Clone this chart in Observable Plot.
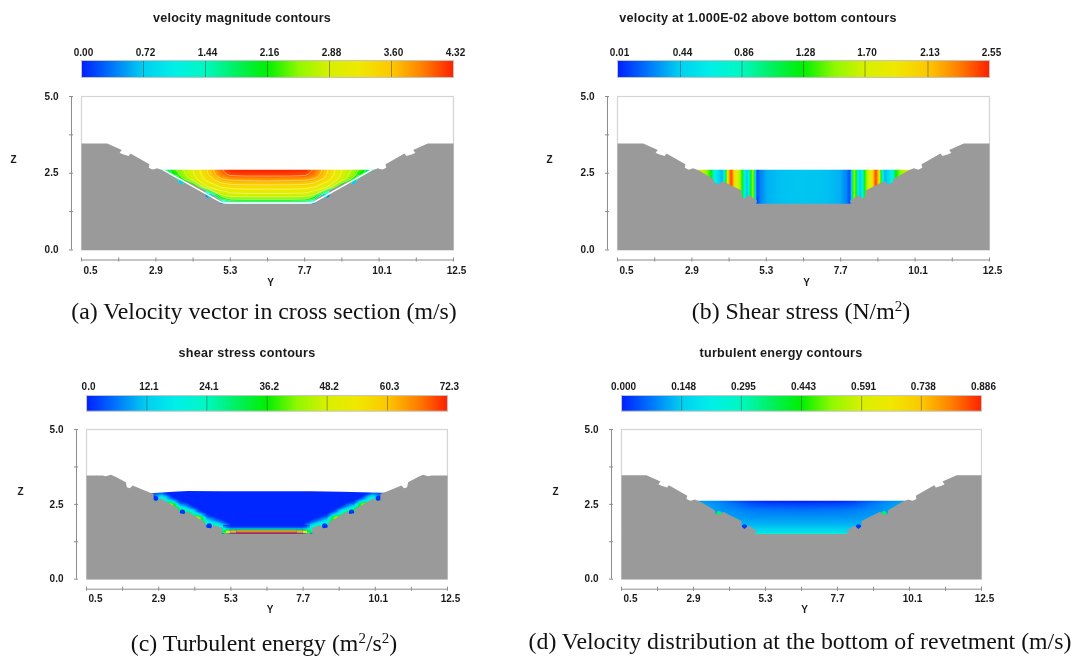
<!DOCTYPE html>
<html><head><meta charset="utf-8">
<script src="https://cdn.jsdelivr.net/npm/d3@7"></script>
<script src="https://cdn.jsdelivr.net/npm/@observablehq/plot@0.6"></script>
<style>
html,body{margin:0;padding:0;background:#fff}
#page{position:relative;width:1081px;height:657px;overflow:hidden;background:#fff;filter:blur(0.4px)}
#page svg{position:absolute;background:transparent;overflow:visible}
.ttl{position:absolute;transform:translate(-50%,-50%);font:bold 12.6px "Liberation Sans",sans-serif;color:#1a1a1a;white-space:nowrap;letter-spacing:.25px}
.cap{position:absolute;transform:translate(-50%,-50%);font:23.8px "Liberation Serif",serif;color:#111;white-space:nowrap}
.cap sup{font-size:15px;line-height:0;vertical-align:8px}
</style></head><body><div id="page"></div>
<script>
// ---------- axis values ----------
const xAxisTicks = [0.5,1.7,2.9,4.1,5.3,6.5,7.7,8.9,10.1,11.3,12.5];
const zAxisTicks = [0,1.25,2.5,3.75,5];
const zAxisLabels = [0,2.5,5];
const xLabelsStart = [0.5];
const xLabelsMid = [2.9,5.3,7.7];
const xLabelsEnd = [10.1,12.5];

// ---------- colour bar ----------
const rainbowStops = ["#0020ff","#0078fa","#00d0f0","#00f0e8","#00f8c0","#00f060","#00f000","#90f800","#d8f000","#f0e800","#fcc800","#ff8000","#ff2000"];
const ticksA = ["0.00","0.72","1.44","2.16","2.88","3.60","4.32"];
const ticksB = ["0.01","0.44","0.86","1.28","1.70","2.13","2.55"];
const ticksC = ["0.0","12.1","24.1","36.2","48.2","60.3","72.3"];
const ticksD = ["0.000","0.148","0.295","0.443","0.591","0.738","0.886"];

// ---------- channel profiles (y, z) ----------
const bedY = [0.5,1.33,1.80,1.73,1.83,2.02,2.08,2.69,2.67,2.80,2.94,3.16,3.61,3.63,3.77,3.88,4.50,4.50,4.60,4.74,5.01,4.95,8.05,7.99,8.26,8.40,8.50,8.50,9.12,9.23,9.37,9.39,9.84,10.06,10.20,10.33,10.31,10.92,10.98,11.17,11.27,11.20,11.67,12.5,12.5,0.5];
const bedZ = [3.47,3.47,3.26,3.17,3.12,3.06,3.14,2.79,2.68,2.61,2.66,2.57,2.30,2.19,2.14,2.25,1.94,1.76,1.68,1.79,1.60,1.51,1.51,1.60,1.79,1.68,1.76,1.94,2.25,2.14,2.19,2.30,2.57,2.66,2.61,2.68,2.79,3.14,3.06,3.12,3.17,3.26,3.47,3.47,0,0];
const bedCY = [0.5,1.03,1.14,1.31,1.48,1.81,1.84,1.95,2.03,2.64,2.73,2.73,2.86,2.95,3.55,3.60,3.75,3.84,4.42,4.50,4.64,4.72,5.0,5.0,8.0,8.0,8.28,8.36,8.50,8.58,9.16,9.25,9.40,9.45,10.05,10.14,10.27,10.27,10.36,10.97,11.05,11.16,11.19,11.52,11.69,11.86,11.97,12.5,12.5,0.5];
const bedCZ = [3.46,3.46,3.44,3.49,3.41,3.24,3.07,3.04,3.13,2.88,2.85,2.63,2.61,2.70,2.36,2.20,2.18,2.26,1.92,1.72,1.70,1.80,1.72,1.52,1.52,1.72,1.80,1.70,1.72,1.92,2.26,2.18,2.20,2.36,2.70,2.61,2.63,2.85,2.88,3.13,3.04,3.07,3.24,3.41,3.49,3.44,3.46,3.46,0,0];

// ---------- water surfaces ----------
const surfaceY = [0.5,12.5];
const surfaceZ = [2.6,2.6];
const surfaceCY = [0.5,2.64,3.4,3.9,5.0,6.5,8.0,9.0,10.36,12.5];
const surfaceCZ = [2.85,2.85,2.9,2.93,2.92,2.92,2.92,2.9,2.87,2.87];

// ---------- (a) velocity magnitude ----------
const wallAY = [3.15,5.0,5.12,7.88,8.0,9.85];
const wallAZ = [2.6,1.56,1.53,1.53,1.56,2.6];
const gridAY = [2.8,3.15,3.4,3.7,4.1,4.55,5.0,5.3,5.8,6.5,7.2,7.7,8.0,8.45,8.9,9.3,9.6,9.85,10.2];
const gridAZ = [3.0,2.6,2.45,2.3,2.04,1.8,1.65,1.57,1.4];
const gridAV = [
 [0.2,1.4,2.2,2.6,3.0,3.5,4.05,4.3,4.3,4.32,4.3,4.3,4.05,3.5,3.0,2.6,2.2,1.4,0.2],
 [0.2,1.4,2.2,2.6,3.0,3.5,4.05,4.3,4.3,4.32,4.3,4.3,4.05,3.5,3.0,2.6,2.2,1.4,0.2],
 [0,0.5,1.9,2.5,2.95,3.45,3.95,4.15,4.2,4.2,4.2,4.15,3.95,3.45,2.95,2.5,1.9,0.5,0],
 [0,0,0.6,2.2,2.85,3.35,3.7,3.8,3.82,3.85,3.82,3.8,3.7,3.35,2.85,2.2,0.6,0,0],
 [0,0,0,0.3,1.8,2.95,3.25,3.32,3.35,3.35,3.35,3.32,3.25,2.95,1.8,0.3,0,0,0],
 [0,0,0,0,0,0.6,2.7,2.9,2.92,2.92,2.92,2.9,2.7,0.6,0,0,0,0,0],
 [0,0,0,0,0,0,1.9,2.4,2.45,2.45,2.45,2.4,1.9,0,0,0,0,0,0],
 [0,0,0,0,0,0,0.9,1.7,1.8,1.8,1.8,1.7,0.9,0,0,0,0,0,0],
 [0,0,0,0,0,0,0,0,0,0,0,0,0,0,0,0,0,0,0]];
const contourA = [1.2,1.6,2.0,2.4,2.7,3.0,3.25,3.5,3.75,4.1];
const cavAY = [2.85,3.7,4.65,8.35,9.3,10.15];
const cavAZ = [2.63,2.2,1.74,1.74,2.2,2.63];
const cavAV = [0.2,0.75,0.75,0.75,0.75,0.2];

// ---------- (b) near-bed velocity, stripes across y ----------
const gridBY = [0.5,3.18,3.34,3.5,3.61,3.72,3.88,3.96,4.04,4.11,4.18,4.23,4.31,4.44,4.52,4.6,4.68,4.76,4.81,4.88,4.94,5.0,5.11,5.33,5.76,6.5,7.24,7.67,7.89,8.0,8.06,8.12,8.19,8.24,8.32,8.4,8.48,8.56,8.69,8.77,8.82,8.89,8.96,9.04,9.12,9.28,9.39,9.5,9.66,9.82,12.5];
const gridBZ = [1.3,2.8];
const stripesB = [1.7,1.7,1.55,1.3,0.8,0.55,0.35,0.8,1.7,2.3,2.5,2.2,1.85,1.6,1.3,0.7,0.4,0.85,1.3,1.65,0.6,0.1,0.25,0.36,0.4,0.41,0.4,0.36,0.25,0.1,0.6,1.65,1.3,0.85,0.4,0.7,1.3,1.6,1.85,2.2,2.5,2.3,1.7,0.8,0.35,0.55,0.8,1.3,1.55,1.7,1.7];

// ---------- (c) shear stress: scattered samples following the wall ----------
const wallCY = [2.7,3.0,3.3,3.6,3.9,4.2,4.5,4.8,4.98,8.02,8.2,8.5,8.8,9.1,9.4,9.7,10.0,10.3];
const wallCZb = [2.76,2.6,2.42,2.26,2.16,1.98,1.82,1.7,1.64,1.64,1.7,1.82,1.98,2.16,2.26,2.42,2.6,2.76];
const wallCZ0 = [2.84,2.68,2.50,2.34,2.24,2.06,1.90,1.78,1.72,1.72,1.78,1.90,2.06,2.24,2.34,2.50,2.68,2.84];
const wallCZ1 = [2.88,2.72,2.54,2.38,2.28,2.10,1.94,1.82,1.76,1.76,1.82,1.94,2.10,2.28,2.38,2.54,2.72,2.88];
const wallCZ2 = [2.94,2.78,2.60,2.44,2.34,2.16,2.00,1.88,1.82,1.82,1.88,2.00,2.16,2.34,2.44,2.60,2.78,2.94];
const wallCZ3 = [3.02,2.86,2.68,2.52,2.42,2.24,2.08,1.96,1.90,1.90,1.96,2.08,2.24,2.42,2.52,2.68,2.86,3.02];
const wallCZ4 = [3.14,2.98,2.80,2.64,2.54,2.36,2.20,2.08,2.02,2.02,2.08,2.20,2.36,2.54,2.64,2.80,2.98,3.14];
const wallCV0 = [3,25,50,30,30,52,22,28,22,22,28,22,52,30,30,50,25,3];
const wallCV1 = [3,20,38,24,24,38,16,20,18,18,20,16,38,24,24,38,20,3];
const wallCV2 = [1.5,14,18,14,14,18,12,14,14,14,14,12,18,14,14,18,14,1.5];
const wallCV3 = [0.5,6,7,6,6,7,5,6,6,6,6,5,7,6,6,7,6,0.5];
const wallCV4 = [0.5,0.5,0.5,0.5,0.5,0.5,0.5,0.5,0.5,0.5,0.5,0.5,0.5,0.5,0.5,0.5,0.5,0.5];
const openCY = [0.5,6.5,12.5,5.3,5.9,6.5,7.1,7.7,5.3,5.9,6.5,7.1,7.7,5.5,6.5,7.5,5.3,6.5,7.7];
const openCZ = [3.6,3.2,3.6,1.85,1.85,1.85,1.85,1.85,2.1,2.1,2.1,2.1,2.1,2.5,2.5,2.5,1.4,1.4,1.4];
const openCV = [0.5,0.5,0.5,0.5,0.5,0.5,0.5,0.5,0.5,0.5,0.5,0.5,0.5,0.5,0.5,0.5,0.5,0.5,0.5];
const cavCY = [2.8,3.69,4.58,8.42,9.31,10.2];
const cavCZ = [2.7,2.24,1.78,1.78,2.24,2.7];
const cavCV = [1,1,1,1,1,1];
// thin layer on the channel floor of (c): column edges, row edges, value per cell
const floorCYEdges = [5.0,5.06,5.15,5.3,5.5,7.5,7.7,7.85,7.94,8.0];
const floorCZEdges = [1.52,1.56,1.6,1.62,1.64,1.66,1.68,1.71,1.75,1.8];
const floorCV = [
 [32,40,56,66,71,66,56,40,32],
 [30,36,52,62,66,62,52,36,30],
 [28,32,46,52,56,52,46,32,28],
 [28,28,36,38,40,38,36,28,28],
 [28,24,28,29,30,29,28,24,28],
 [28,18,20,20,20,20,20,18,28],
 [26,14,11,10,10,10,11,14,26],
 [20,8,4,3,3,3,4,8,20],
 [14,3,1,0.5,0.5,0.5,1,3,14]];

// ---------- (d) turbulent energy ----------
const gridDY = [2.9,3.3,3.8,4.3,4.8,5.3,6.5,7.7,8.2,8.7,9.2,9.7,10.1];
const gridDZ = [2.9,2.6,2.5,2.3,2.0,1.75,1.55,1.5,1.4];
const gridDV = [
 [0.11,0.1,0.08,0.05,0.02,0.005,0,0.005,0.02,0.05,0.08,0.1,0.11],
 [0.11,0.1,0.08,0.05,0.02,0.005,0,0.005,0.02,0.05,0.08,0.1,0.11],
 [0.12,0.11,0.09,0.07,0.045,0.035,0.03,0.035,0.045,0.07,0.09,0.11,0.12],
 [0.14,0.12,0.1,0.09,0.08,0.075,0.07,0.075,0.08,0.09,0.1,0.12,0.14],
 [0.16,0.14,0.12,0.11,0.105,0.105,0.105,0.105,0.105,0.11,0.12,0.14,0.16],
 [0.19,0.17,0.15,0.14,0.135,0.135,0.135,0.135,0.135,0.14,0.15,0.17,0.19],
 [0.22,0.21,0.2,0.2,0.19,0.19,0.19,0.19,0.19,0.2,0.2,0.21,0.22],
 [0.33,0.33,0.33,0.33,0.33,0.33,0.33,0.33,0.33,0.33,0.33,0.33,0.33],
 [0.33,0.33,0.33,0.33,0.33,0.33,0.33,0.33,0.33,0.33,0.33,0.33,0.33]];
const cavDY = [3.75,4.6,8.4,9.25];
const cavDZ = [2.19,1.75,1.75,2.19];
const cavDV = [0.36,0.02,0.02,0.36];

// ---------- helpers turning the arrays into mark data ----------
const toPts = (xs, zs) => xs.map((x,i)=>({x, z:zs[i]}));
const toSamples = (xs, zs, vs) => xs.map((x,i)=>({x, z:zs[i], v:vs[i]}));
const fromGrid = (xs, zs, rows) => zs.flatMap((z,r)=>xs.map((x,c)=>({x, z, v:rows[r][c]})));
const floorCells = floorCV.flatMap((row,r)=>row.map((v,c)=>({x1:floorCYEdges[c],x2:floorCYEdges[c+1],z1:floorCZEdges[r],z2:floorCZEdges[r+1],v})));

const samplesA = fromGrid(gridAY, gridAZ, gridAV);
const samplesB = fromGrid(gridBY, gridBZ, gridBZ.map(()=>stripesB));
const samplesC = [
  ...toSamples(wallCY, wallCZb, wallCV0), ...toSamples(wallCY, wallCZ0, wallCV0),
  ...toSamples(wallCY, wallCZ1, wallCV1), ...toSamples(wallCY, wallCZ2, wallCV2),
  ...toSamples(wallCY, wallCZ3, wallCV3), ...toSamples(wallCY, wallCZ4, wallCV4),
  ...toSamples(openCY, openCZ, openCV)];
const samplesD = fromGrid(gridDY, gridDZ, gridDV);

const GROUND = "#9a9a9a", AXIS = "#8c8c8c", INK = "#1a1a1a", FONT = "Liberation Sans";
const page = document.getElementById("page");

function panel(o){
  const {L,R,T,B,barT,barB,ticks,samples,bed,surface,extra=[],after=[],cav,titleText,titleX,titleY,capHTML,capX,capY,xLabelY=270,yLabelDy=33,zDx=-68} = o;
  const vmin = +ticks[0], vmax = +ticks[ticks.length-1];
  const color = {domain:[vmin,vmax], clamp:true, interpolate:d3.piecewise(d3.interpolateRgb, rainbowStops)};
  const style = {fontFamily:FONT, fontWeight:"bold", fontSize:"10px", color:INK, background:"transparent", overflow:"visible"};
  const mL = 80, mR = 40, mB = 48, mT = 10;
  const w = R-L+mL+mR, h = B-T+mT+mB;
  const xLabelDy = xLabelY-B;

  const field = Plot.plot({
    width:w, height:h, marginLeft:mL, marginRight:mR, marginTop:mT, marginBottom:mB,
    style, color,
    x:{domain:[0.5,12.5], axis:null}, y:{domain:[0,5], axis:null},
    marks:[
      Plot.raster(samples,{x:"x",y:"z",fill:"v",interpolate:"barycentric",pixelSize:1}),
      ...extra,
      cav ? Plot.dot(cav,{x:"x",y:"z",fill:"v",r:2.6}) : null,
      Plot.areaY(surface,{x:"x",y1:"z",y2:()=>5,fill:"#ffffff"}),
      Plot.frame({stroke:"#d4d4d4",strokeWidth:1.2}),
      Plot.line(bed,{x:"x",y:"z",fill:GROUND,stroke:"none"}),
      ...after,
      Plot.ruleY([0],{dy:10,stroke:AXIS,strokeWidth:1}),
      Plot.axisX(xAxisTicks,{anchor:"bottom",text:null,tickSize:4,dy:8,stroke:AXIS,label:null}),
      Plot.ruleX([0.5],{dx:-10,stroke:AXIS,strokeWidth:1}),
      Plot.axisY(zAxisTicks,{anchor:"left",text:null,tickSize:4,dx:-8,stroke:AXIS,label:null}),
      Plot.text(zAxisLabels,{y:d=>d,text:d=>d.toFixed(1),frameAnchor:"left",textAnchor:"end",dx:-23,fill:INK}),
      Plot.text(xLabelsStart,{x:d=>d,text:d=>d.toFixed(1),frameAnchor:"bottom",lineAnchor:"middle",dx:9,dy:xLabelDy,fill:INK}),
      Plot.text(xLabelsMid,{x:d=>d,text:d=>d.toFixed(1),frameAnchor:"bottom",lineAnchor:"middle",dy:xLabelDy,fill:INK}),
      Plot.text(xLabelsEnd,{x:d=>d,text:d=>d.toFixed(1),frameAnchor:"bottom",lineAnchor:"middle",dx:3,dy:xLabelDy,fill:INK}),
      Plot.text(["Y"],{frameAnchor:"bottom",lineAnchor:"middle",dx:3,dy:yLabelDy,fill:INK}),
      Plot.text(["Z"],{frameAnchor:"left",textAnchor:"middle",dx:zDx,dy:-13,fill:INK})
    ].filter(Boolean)
  });
  field.style.left = (L-mL)+"px"; field.style.top = (T-mT)+"px";
  page.appendChild(field);

  const bw = R-L, bh = barB-barT;
  const bar = Plot.plot({
    width:bw+60, height:bh+30, marginLeft:30, marginRight:30, marginTop:25, marginBottom:5,
    style, color,
    x:{domain:[vmin,vmax], axis:null}, y:{domain:[0,1], axis:null},
    marks:[
      Plot.raster({fill:(x,y)=>x, x1:vmin, x2:vmax, y1:0, y2:1, pixelSize:1}),
      Plot.ruleX(ticks.slice(1,-1),{x:d=>+d,stroke:"#333",strokeOpacity:0.45}),
      Plot.frame({stroke:"#c4c4c4"}),
      Plot.text(ticks,{x:d=>+d,text:d=>d,frameAnchor:"top",lineAnchor:"bottom",dx:2,dy:-5,fill:INK})
    ]
  });
  bar.style.left = (L-30)+"px"; bar.style.top = (barT-25)+"px";
  page.appendChild(bar);

  const t = document.createElement("div"); t.className="ttl"; t.textContent=titleText;
  t.style.left=titleX+"px"; t.style.top=titleY+"px"; page.appendChild(t);
  const c = document.createElement("div"); c.className="cap"; c.innerHTML=capHTML;
  c.style.left=capX+"px"; c.style.top=capY+"px"; page.appendChild(c);
}

panel({L:81,R:453,T:95.5,B:249,barT:60,barB:77,ticks:ticksA,samples:samplesA,
  bed:toPts(bedY,bedZ),surface:toPts(surfaceY,surfaceZ),cav:toSamples(cavAY,cavAZ,cavAV),
  extra:[Plot.contour(samplesA,{x:"x",y:"z",value:"v",thresholds:contourA,stroke:"#ffffff",fill:"none",strokeWidth:0.5,strokeOpacity:0.75,interpolate:"barycentric",pixelSize:1})],
  after:[Plot.line(toPts(wallAY,wallAZ),{x:"x",y:"z",stroke:"#ffffff",strokeWidth:1.5})],
  titleText:"velocity magnitude contours",titleX:242,titleY:17.5,
  capHTML:"(a) Velocity vector in cross section (m/s)",capX:264,capY:311});
panel({L:617,R:989,T:95.5,B:249,barT:60,barB:77,ticks:ticksB,samples:samplesB,
  bed:toPts(bedY,bedZ),surface:toPts(surfaceY,surfaceZ),
  titleText:"velocity at 1.000E-02 above bottom contours",titleX:758,titleY:17.5,
  capHTML:"(b) Shear stress (N/m<sup>2</sup>)",capX:801,capY:311});
panel({L:85.7,R:446.7,T:429,B:578.7,barT:395,barB:410.7,ticks:ticksC,samples:samplesC,
  bed:toPts(bedCY,bedCZ),surface:toPts(surfaceCY,surfaceCZ),cav:toSamples(cavCY,cavCZ,cavCV),
  extra:[Plot.rect(floorCells,{x1:"x1",x2:"x2",y1:"z1",y2:"z2",fill:"v"})],
  xLabelY:598,yLabelDy:31,zDx:-66,
  titleText:"shear stress contours",titleX:247,titleY:352.5,
  capHTML:"(c) Turbulent energy (m<sup>2</sup>/s<sup>2</sup>)",capX:264,capY:643});
panel({L:621,R:981,T:429,B:578.7,barT:395,barB:410.7,ticks:ticksD,samples:samplesD,
  bed:toPts(bedY,bedZ),surface:toPts(surfaceY,surfaceZ),cav:toSamples(cavDY,cavDZ,cavDV),
  xLabelY:598,yLabelDy:31,zDx:-66,
  titleText:"turbulent energy contours",titleX:781,titleY:352.5,
  capHTML:"(d) Velocity distribution at the bottom of revetment (m/s)",capX:800,capY:641});
</script></body></html>
